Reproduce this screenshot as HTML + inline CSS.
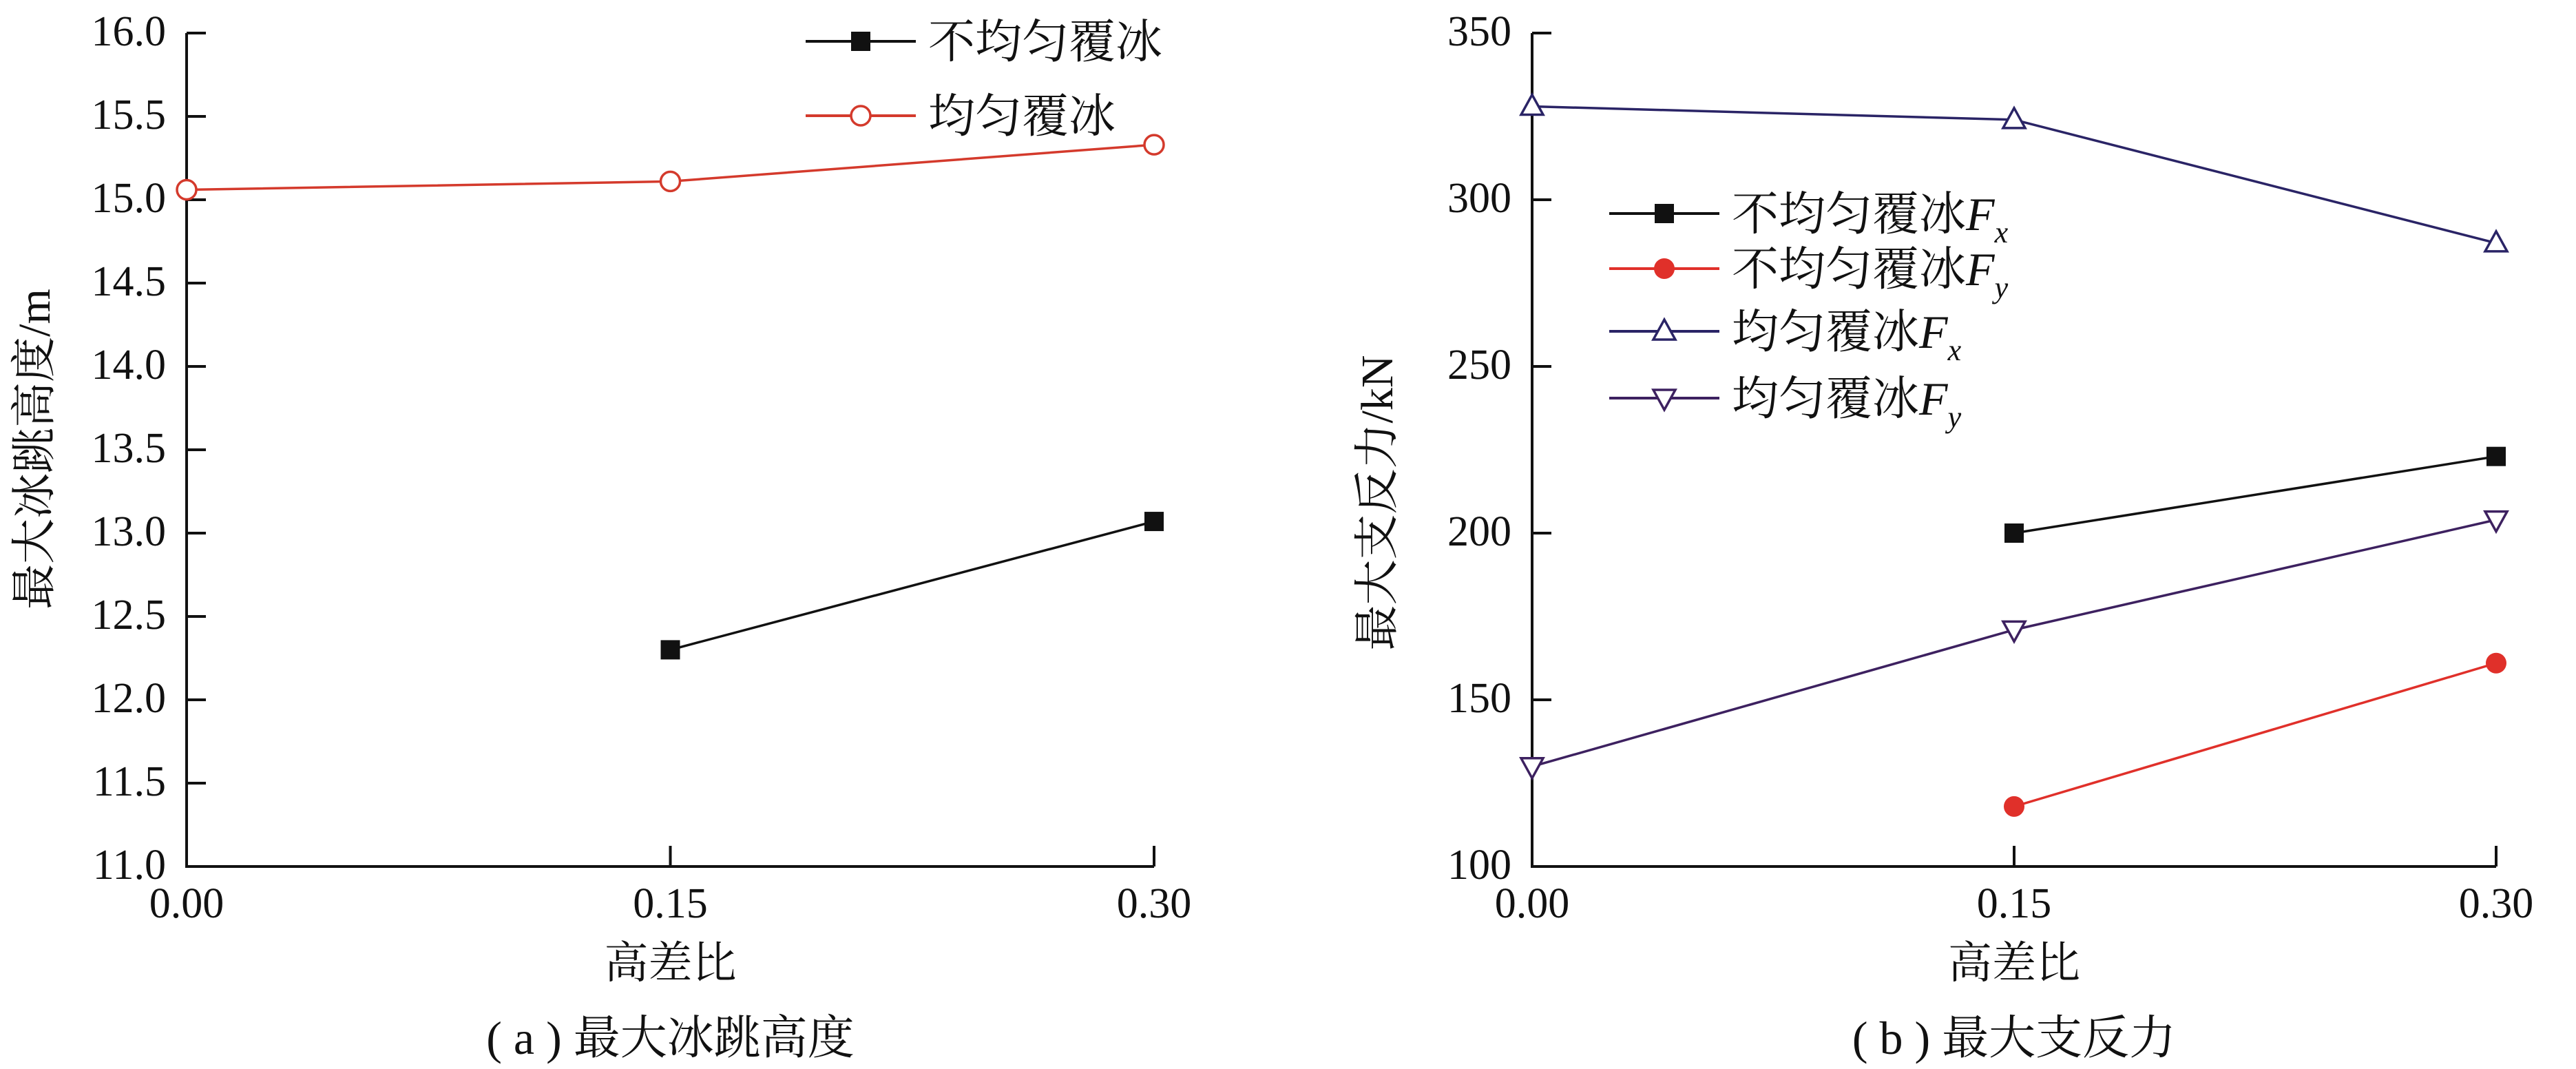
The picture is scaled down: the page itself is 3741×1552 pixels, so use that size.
<!DOCTYPE html>
<html><head><meta charset="utf-8">
<style>
html,body{margin:0;padding:0;background:#fff;}
svg{display:block;}
text{font-family:"Liberation Serif","Noto Serif CJK SC",serif;}
</style></head>
<body>
<svg id="c" width="3741" height="1552" viewBox="0 0 3741 1552" xmlns="http://www.w3.org/2000/svg"></svg>
<script>
const xCats = [0.00, 0.15, 0.30];
const xTickLabels = ["0.00", "0.15", "0.30"];
// panel a
const aTicks = [11.0, 11.5, 12.0, 12.5, 13.0, 13.5, 14.0, 14.5, 15.0, 15.5, 16.0];
const aNonUniform = [null, 12.30, 13.07];
const aUniform = [15.06, 15.11, 15.33];
// panel b
const bTicks = [100, 150, 200, 250, 300, 350];
const bNonFx = [null, 200, 223];
const bNonFy = [null, 118, 161];
const bUniFx = [328, 324, 287];
const bUniFy = [130, 171, 204];

const NS = "http://www.w3.org/2000/svg";
const FONT = '"Liberation Serif", "Noto Serif CJK SC", serif';
const svg = document.getElementById('c');
function el(tag, attrs, parent) {
  const e = document.createElementNS(NS, tag);
  for (const k in attrs) e.setAttribute(k, attrs[k]);
  (parent || svg).appendChild(e);
  return e;
}
function txt(s, x, y, size, anchor, parent) {
  const t = el('text', {x: x, y: y, 'font-size': size, 'font-family': FONT, 'text-anchor': anchor || 'middle', fill: '#111'}, parent);
  t.textContent = s;
  return t;
}
function marker(g, type, x, y, color) {
  let m;
  if (type === 'square') m = el('rect', {x: x - 14, y: y - 14, width: 28, height: 28, fill: '#111'}, g);
  else if (type === 'circle-open') m = el('circle', {cx: x, cy: y, r: 14, fill: '#fff', stroke: color, 'stroke-width': 3.5}, g);
  else if (type === 'circle') m = el('circle', {cx: x, cy: y, r: 15, fill: color}, g);
  else if (type === 'tri-up') m = el('polygon', {points: `${x},${y-17} ${x-16},${y+12} ${x+16},${y+12}`, fill: '#fff', stroke: color, 'stroke-width': 3.5}, g);
  else m = el('polygon', {points: `${x},${y+17} ${x-16},${y-12} ${x+16},${y-12}`, fill: '#fff', stroke: color, 'stroke-width': 3.5}, g);
  
  
}
function panel(opt) {
  const g = el('g', {});
  
  
  const X = v => opt.x0 + (v - xCats[0]) / (xCats[2] - xCats[0]) * (opt.x1 - opt.x0);
  const Y = v => opt.y0 - (v - opt.ticks[0]) / (opt.ticks[opt.ticks.length - 1] - opt.ticks[0]) * (opt.y0 - opt.y1);
  const axes = el('path', {d: `M${opt.x0},${opt.y1} V${opt.y0} H${X(xCats[2])}`, fill: 'none', stroke: '#111', 'stroke-width': 4}, g);
  
  
  opt.ticks.forEach(t => {
    el('line', {x1: opt.x0, x2: opt.x0 + 28, y1: Y(t), y2: Y(t), stroke: '#111', 'stroke-width': 4}, g);
    const l = txt(opt.fmt(t), opt.x0 - 30, Y(t) + 18, 62, 'end', g);
    
    
  });
  xCats.forEach((c, i) => {
    if (i > 0) el('line', {x1: X(c), x2: X(c), y1: opt.y0, y2: opt.y0 - 30, stroke: '#111', 'stroke-width': 4}, g);
    const l = txt(xTickLabels[i], X(c), 1332, 62, 'middle', g);
    
    
  });
  const cx = (opt.x0 + X(xCats[2])) / 2;
  const xt = txt('高差比', cx, 1420, 64, 'middle', g);
  
  
  const cap = txt(opt.caption, cx, 1530, 68, 'middle', g);
  
  
  const yt = el('text', {x: 0, y: 0, 'font-size': 66, 'font-family': FONT, 'text-anchor': 'middle', fill: '#111', transform: `translate(${opt.ytx},${opt.yty}) rotate(-90)`}, g);
  yt.textContent = opt.ytitle;
  
  
  opt.series.forEach(s => {
    const sg = el('g', {}, g);
    
    
    const pts = [];
    s.data.forEach((v, i) => { if (v !== null) pts.push([X(xCats[i]), Y(v)]); });
    el('polyline', {points: pts.map(p => p.join(',')).join(' '), fill: 'none', stroke: s.color, 'stroke-width': 3.5}, sg);
    pts.forEach(p => marker(sg, s.marker, p[0], p[1], s.color));
    const lg = el('g', {}, g);
    
    
    el('line', {x1: opt.lgx, x2: opt.lgx + 160, y1: s.ly, y2: s.ly, stroke: s.color, 'stroke-width': 4}, lg);
    marker(lg, s.marker, opt.lgx + 80, s.ly, s.color);
    const t = el('text', {x: opt.lgx + 178, y: s.ly + 24, 'font-size': 68, 'font-family': FONT, fill: '#111'}, lg);
    t.textContent = s.label;
    if (s.sub) {
      const f = el('tspan', {'font-style': 'italic'}, t); f.textContent = 'F';
      const sb = el('tspan', {'font-style': 'italic', 'font-size': 44, dy: 18}, t); sb.textContent = s.sub;
    }
  });
}
panel({name: 'panel-a-max-ice-jump-height', x0: 271, x1: 1676, y0: 1258, y1: 48, ticks: aTicks,
  fmt: v => v.toFixed(1), caption: '( a ) 最大冰跳高度', ytx: 72, yty: 652, ytitle: '最大冰跳高度/m', lgx: 1170,
  series: [
    {name: 'series-nonuniform-ice', data: aNonUniform, color: '#111', marker: 'square', label: '不均匀覆冰', ly: 60},
    {name: 'series-uniform-ice', data: aUniform, color: '#d43a2c', marker: 'circle-open', label: '均匀覆冰', ly: 168}
  ]});
panel({name: 'panel-b-max-support-reaction', x0: 2225, x1: 3625, y0: 1258, y1: 48, ticks: bTicks,
  fmt: v => String(v), caption: '( b ) 最大支反力', ytitle: '最大支反力/kN', ytx: 2022, yty: 730, lgx: 2337,
  series: [
    {name: 'series-nonuniform-fx', data: bNonFx, color: '#111', marker: 'square', label: '不均匀覆冰', sub: 'x', ly: 310},
    {name: 'series-nonuniform-fy', data: bNonFy, color: '#e0302a', marker: 'circle', label: '不均匀覆冰', sub: 'y', ly: 390},
    {name: 'series-uniform-fx', data: bUniFx, color: '#2a2466', marker: 'tri-up', label: '均匀覆冰', sub: 'x', ly: 481},
    {name: 'series-uniform-fy', data: bUniFy, color: '#3d2160', marker: 'tri-down', label: '均匀覆冰', sub: 'y', ly: 578}
  ]});
</script>
</body></html>
